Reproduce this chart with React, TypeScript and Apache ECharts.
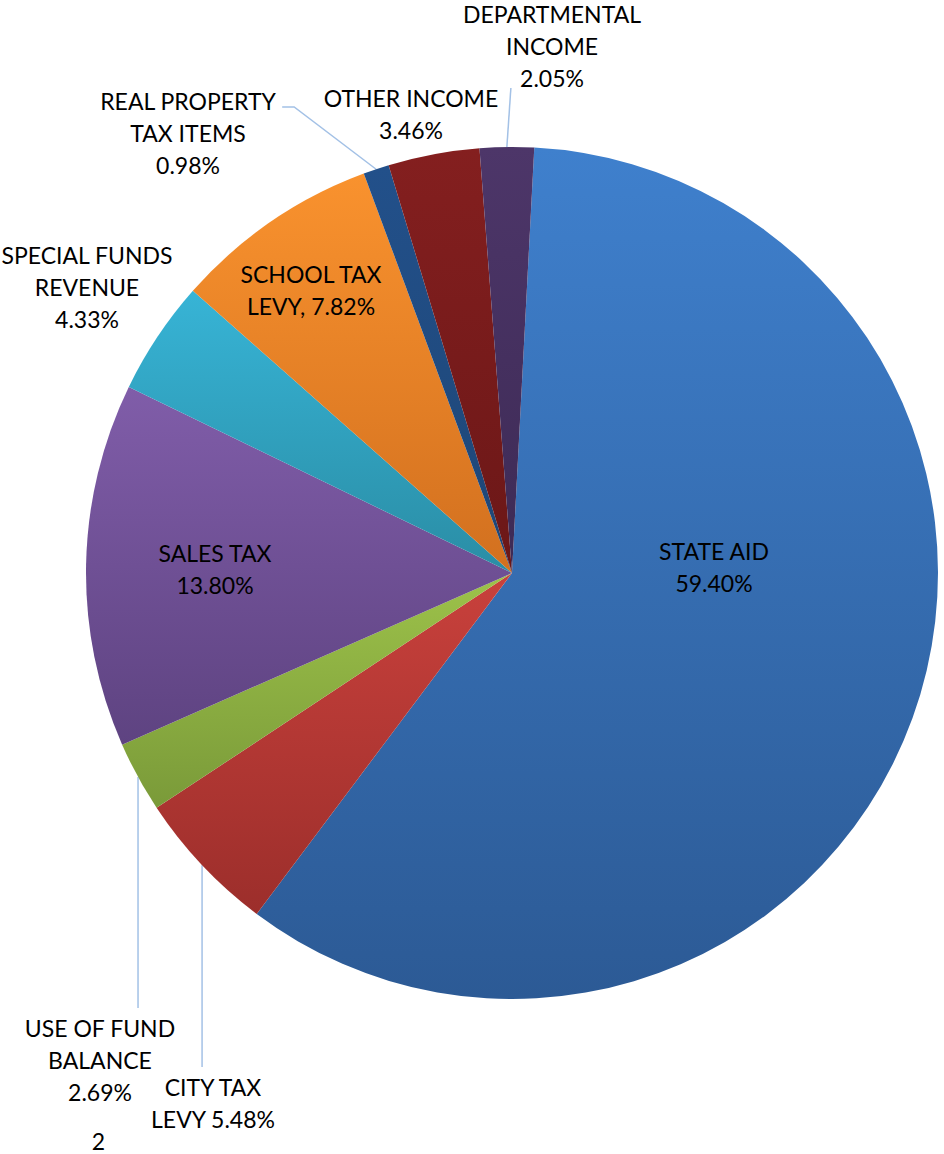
import React, { useEffect, useRef } from "react";
import * as echarts from "echarts";

const categories = [
  "STATE AID",
  "CITY TAX LEVY",
  "USE OF FUND BALANCE",
  "SALES TAX",
  "SPECIAL FUNDS REVENUE",
  "SCHOOL TAX LEVY",
  "REAL PROPERTY TAX ITEMS",
  "OTHER INCOME",
  "DEPARTMENTAL INCOME",
];
const values = [59.4, 5.48, 2.69, 13.8, 4.33, 7.82, 0.98, 3.46, 2.05];
const labelTemplates = [
  "STATE AID\n{v}",
  "CITY TAX\nLEVY {v}",
  "USE OF FUND\nBALANCE\n{v}",
  "SALES TAX\n{v}",
  "SPECIAL FUNDS\nREVENUE\n{v}",
  "SCHOOL TAX\nLEVY, {v}",
  "REAL PROPERTY\nTAX ITEMS\n{v}",
  "OTHER INCOME\n{v}",
  "DEPARTMENTAL\nINCOME\n{v}",
];
const colorTop = ["#3F80CD", "#C9413C", "#9DC24A", "#805DA9", "#37B4D6", "#F9922E", "#22508A", "#841F1F", "#4D3669"];
const colorBottom = ["#2C5A95", "#9C2E2B", "#7A9A39", "#5E4381", "#2A8DA5", "#D2701F", "#1E4676", "#6B1717", "#3D2A55"];
const footnote = "2";

// layout of labels (pixel positions of label centres)
const CX = 512;
const CY = 573;
const R = 426;
const labelPos: { x: number; y: number; inside?: boolean; line?: string }[] = [
  { x: 714, y: 567, inside: true },
  { x: 213, y: 1103, line: "down" },
  { x: 100, y: 1060, line: "down" },
  { x: 215, y: 569, inside: true },
  { x: 87, y: 287 },
  { x: 311, y: 290, inside: true },
  { x: 188, y: 133, line: "side" },
  { x: 411, y: 114 },
  { x: 552, y: 46, line: "up" },
];

export default function App() {
  const ref = useRef<HTMLDivElement>(null);
  useEffect(() => {
    document.body.style.margin = "0";
    if (!ref.current) return;
    const chart = echarts.init(ref.current, null, { renderer: "svg" });
    const total = values.reduce((a, b) => a + b, 0);
    const startAngle = 87;
    const midAngles: number[] = [];
    let acc = 0;
    values.forEach((v) => {
      const mid = acc + v / 2;
      midAngles.push(startAngle - (mid / total) * 360);
      acc += v;
    });

    const data = categories.map((name, i) => ({
      name,
      value: values[i],
      itemStyle: {
        color: new echarts.graphic.LinearGradient(0, 0, 0, 1, [
          { offset: 0, color: colorTop[i] },
          { offset: 1, color: colorBottom[i] },
        ]),
      },
      label: {
        position: labelPos[i].inside ? "inside" : "outside",
      },
      labelLine: { show: !!labelPos[i].line },
    }));

    chart.setOption({
      animation: false,
      backgroundColor: "#ffffff",
      graphic: [
        {
          type: "text",
          x: 98.5,
          y: 1141,
          style: {
            text: footnote,
            font: "23px Lato",
            fill: "#000000",
            textAlign: "center",
            textVerticalAlign: "middle",
          },
        },
      ],
      series: [
        {
          type: "pie",
          center: [CX, CY],
          radius: R,
          startAngle,
          clockwise: true,
          avoidLabelOverlap: false,
          data,
          label: {
            show: true,
            fontFamily: "Lato",
            fontSize: 23,
            lineHeight: 32,
            color: "#000000",
            align: "center",
            formatter: (p: any) =>
              labelTemplates[p.dataIndex].replace("{v}", values[p.dataIndex].toFixed(2) + "%"),
          },
          labelLine: {
            show: true,
            length: 20,
            length2: 10,
            lineStyle: { color: "#A3C1E6", width: 1.5 },
          },
          labelLayout: (params: any) => {
            const i = params.dataIndex;
            const p = labelPos[i];
            const res: any = { x: p.x, y: p.y, align: "center", verticalAlign: "middle" };
            if (p.line) {
              const a = (midAngles[i] * Math.PI) / 180;
              const sx = CX + R * Math.cos(a);
              const sy = CY - R * Math.sin(a);
              const h = params.labelRect ? params.labelRect.height : 64;
              const w = params.labelRect ? params.labelRect.width : 170;
              if (p.line === "down") {
                res.labelLinePoints = [[sx, sy], [sx, p.y - h / 2 - 4], [sx, p.y - h / 2 - 4]];
              } else if (p.line === "up") {
                res.labelLinePoints = [[sx, sy], [sx + 4, p.y + h / 2 - 6], [sx + 4, p.y + h / 2 - 6]];
              } else {
                const ly = p.y - h / 2 + 22;
                const rx = p.x + w / 2;
                res.labelLinePoints = [[sx, sy], [rx + 18, ly], [rx + 6, ly]];
              }
            }
            return res;
          },
          itemStyle: { borderWidth: 0 },
          emphasis: { disabled: true },
        },
      ],
    });
    return () => chart.dispose();
  }, []);
  return <div ref={ref} style={{ width: 944, height: 1154 }} />;
}
